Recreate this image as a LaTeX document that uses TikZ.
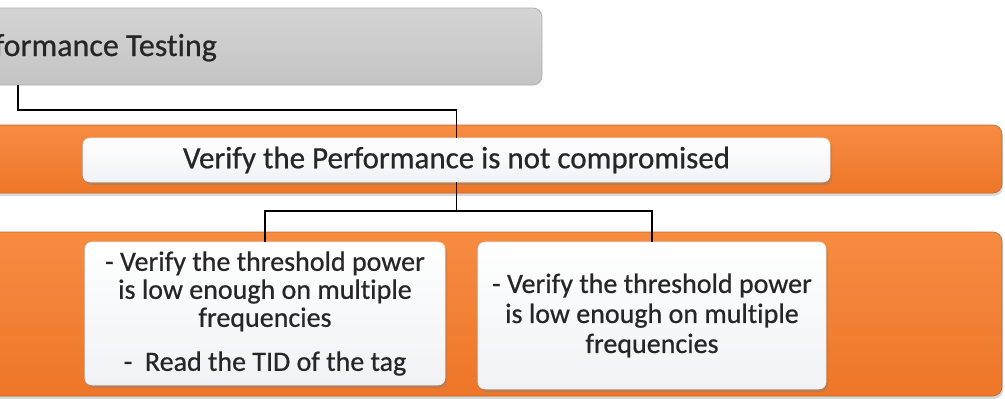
\documentclass[tikz,border=0pt]{standalone}
\usepackage{fontspec}
\setmainfont[Ligatures=NoCommon, FakeBold=0.6]{Carlito}
\usetikzlibrary{shadows}
\definecolor{orangeT}{HTML}{F68C42}
\definecolor{orangeB}{HTML}{EE7628}
\definecolor{greyT}{HTML}{D4D4D4}
\definecolor{greyB}{HTML}{C4C4C4}
\definecolor{wboxB}{HTML}{F0F2F5}
\definecolor{txt}{HTML}{262626}
\tikzset{
  bar/.style={rounded corners=9pt, top color=orangeT, bottom color=orangeB, draw=orangeB!85!black, line width=0.6pt,
    drop shadow={opacity=0.3, shadow xshift=1pt, shadow yshift=-3pt}},
  greybox/.style={rounded corners=9pt, top color=greyT, bottom color=greyB, draw=greyB!90!black, line width=0.8pt},
  wbox/.style={rounded corners=7pt, top color=white, bottom color=wboxB, draw=white!85!gray, line width=0.6pt,
    drop shadow={opacity=0.45, shadow xshift=2pt, shadow yshift=-3pt}, text=txt, align=center},
  conn/.style={draw=black, line width=1.8pt},
  lbl/.style={text=txt, align=center}
}
\begin{document}
\begin{tikzpicture}[x=1pt,y=-1pt]
\useasboundingbox (0,0) rectangle (1005,399);
\clip (0,0) rectangle (1005,399);
\fill[white] (0,0) rectangle (1005,399);
% grey title box
\node[greybox, minimum width=602pt, minimum height=77pt, inner sep=0pt] (grey) at (241,46.5) {};
\node[lbl, anchor=base east, inner sep=0pt, font=\fontsize{32}{36}\selectfont] (title) at (217,56) {Performance Testing};
% orange bars
\node[bar, minimum width=1062pt, minimum height=68pt, inner sep=0pt] (bar1) at (471,159) {};
\node[bar, minimum width=1062pt, minimum height=164pt, inner sep=0pt] (bar2) at (471,314) {};
% white boxes
\node[wbox, minimum width=747pt, minimum height=44pt, inner sep=0pt, font=\fontsize{31}{34}\selectfont] (v1) at (456.5,160) {Verify the Performance is not compromised};
\node[wbox, minimum width=360pt, minimum height=143pt, inner sep=0pt, font=\fontsize{28}{28}\selectfont] (boxA) at (265,313.5)
  {- Verify the threshold power\\is low enough on multiple\\frequencies\\[16pt]-\ \ Read the TID of the tag};
\node[wbox, minimum width=348pt, minimum height=147pt, inner sep=0pt, font=\fontsize{28}{30}\selectfont] (boxB) at (652,315.5)
  {- Verify the threshold power\\is low enough on multiple\\frequencies};
% connectors
\coordinate (c1) at (18,0);
\coordinate (h1) at (0,110);
\coordinate (h2) at (0,211);
\draw[conn] (c1 |- grey.south) -- (c1 |- h1) -- (v1.north |- h1) -- (v1.north);
\draw[conn] (v1.south) -- (v1.south |- h2) -- (boxA.north |- h2) -- (boxA.north);
\draw[conn] (v1.south |- h2) -- (boxB.north |- h2) -- (boxB.north);
\end{tikzpicture}
\end{document}
